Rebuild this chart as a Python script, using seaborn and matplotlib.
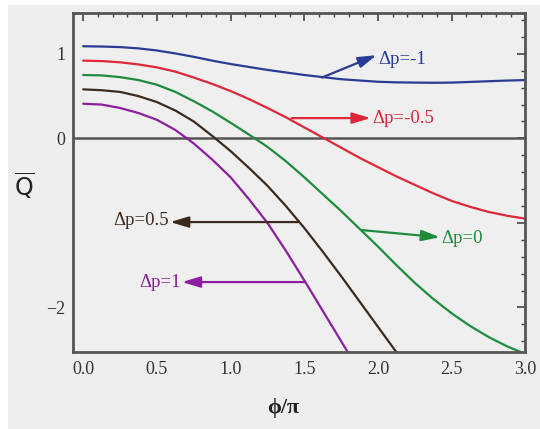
import numpy as np
import pandas as pd
import matplotlib
matplotlib.use("Agg")
import matplotlib.pyplot as plt
from matplotlib.patches import Rectangle
import seaborn as sns

# ---- data ----
phi = [0.0, 0.125, 0.25, 0.375, 0.5, 0.625, 0.75, 0.875, 1.0, 1.125, 1.25, 1.375, 1.5,
       1.625, 1.75, 1.875, 2.0, 2.125, 2.25, 2.375, 2.5, 2.625, 2.75, 2.875, 3.0]
q_dp_m1 = [1.09, 1.087, 1.08, 1.065, 1.04, 1.005, 0.965, 0.92, 0.88, 0.845, 0.81, 0.78, 0.75,
           0.725, 0.70, 0.685, 0.67, 0.663, 0.66, 0.658, 0.66, 0.668, 0.676, 0.684, 0.69]
q_dp_m05 = [0.92, 0.915, 0.90, 0.875, 0.84, 0.79, 0.72, 0.645, 0.56, 0.465, 0.36, 0.25, 0.13,
            0.01, -0.11, -0.23, -0.34, -0.45, -0.55, -0.65, -0.74, -0.81, -0.87, -0.915, -0.95]
q_dp_0 = [0.75, 0.745, 0.725, 0.69, 0.635, 0.55, 0.44, 0.32, 0.185, 0.045, -0.10, -0.27, -0.46,
          -0.66, -0.86, -1.07, -1.28, -1.50, -1.71, -1.90, -2.07, -2.22, -2.35, -2.46, -2.55]
q_dp_05 = [0.58, 0.57, 0.55, 0.50, 0.43, 0.33, 0.20, 0.03, -0.15, -0.35, -0.56, -0.80, -1.06,
           -1.34, -1.63, -1.93, -2.23, -2.53, -2.83]
q_dp_1 = [0.41, 0.40, 0.36, 0.30, 0.22, 0.10, -0.06, -0.25, -0.46, -0.72, -1.00, -1.33, -1.68,
          -2.04, -2.40, -2.76]

series_names = ["Δp=-1", "Δp=-0.5", "Δp=0", "Δp=0.5", "Δp=1"]
series_vals = [q_dp_m1, q_dp_m05, q_dp_0, q_dp_05, q_dp_1]
colors = {"Δp=-1": "#283c96", "Δp=-0.5": "#dc2838", "Δp=0": "#1e8c3c",
          "Δp=0.5": "#3c2a1e", "Δp=1": "#8c1ea0"}

# annotation anchors: (point on curve, arrow head, label position, ha)
annots = {
    "Δp=-1": ((1.62, 0.72), (1.99, 0.985), (2.00, 0.93), "left"),
    "Δp=-0.5": ((1.415, 0.24), (1.95, 0.24), (1.96, 0.24), "left"),
    "Δp=0": ((1.89, -1.085), (2.42, -1.17), (2.43, -1.18), "left"),
    "Δp=0.5": ((1.46, -0.99), (0.59, -0.99), (0.58, -0.975), "right"),
    "Δp=1": ((1.505, -1.70), (0.67, -1.70), (0.66, -1.71), "right"),
}

rows = []
for name, vals in zip(series_names, series_vals):
    for x, y in zip(phi, vals):
        rows.append({"phi": x, "Q": y, "series": name})
df = pd.DataFrame(rows)

sns.set_style("white")
plt.rcParams["font.family"] = ["Liberation Serif", "DejaVu Serif"]
plt.rcParams["mathtext.fontset"] = "custom"

fig = plt.figure(figsize=(5.4, 4.29), dpi=100)
fig.patch.set_facecolor("white")
fig.patches.append(Rectangle((8 / 540, 0), 1, 1 - 5 / 429, transform=fig.transFigure,
                             facecolor="#eeeeee", edgecolor="none", zorder=-10))
ax = fig.add_axes([0.136, 0.179, 0.837, 0.790])
ax.set_facecolor("#efefef")

sns.lineplot(data=df, x="phi", y="Q", hue="series", palette=colors, ax=ax,
             linewidth=1.6, legend=False, sort=True)

ax.axhline(0, color="#555555", lw=1.8, zorder=1)

for name in series_names:
    start, head, lab, ha = annots[name]
    c = colors[name]
    ax.annotate("", xy=head, xytext=start,
                arrowprops=dict(arrowstyle="-|>,head_length=1.1,head_width=0.33",
                                color=c, lw=1.6, mutation_scale=10, shrinkA=0, shrinkB=0))
    ax.text(lab[0], lab[1], name, color=c, fontsize=13.5, ha=ha, va="center",
            family=["Liberation Serif", "DejaVu Serif"])

ax.set_xlim(-0.066, 3.0)
ax.set_ylim(-2.53, 1.48)
ax.set_xticks([0, 0.5, 1.0, 1.5, 2.0, 2.5, 3.0])
ax.set_xticklabels(["0.0", "0.5", "1.0", "1.5", "2.0", "2.5", "3.0"])
ax.set_xticks(np.arange(0, 3.01, 0.1), minor=True)
ax.set_yticks([-2, -1, 0, 1])
ax.set_yticklabels(["\u22122", "", "0", "1"])
ax.set_yticks(np.arange(-2.4, 1.41, 0.2), minor=True)
ax.tick_params(which="both", direction="in", top=True, right=True, colors="#444444",
               labelcolor="#333333", labelsize=13)
ax.tick_params(which="major", length=6, width=1.2, pad=6)
ax.tick_params(which="minor", length=3, width=1.0)
for s in ax.spines.values():
    s.set_color("#555555")
    s.set_linewidth(2)
ax.set_xlabel("")
ax.set_ylabel("")

fig.text(283 / 540, 1 - 408 / 429, "ϕ/π", ha="center", va="center", fontsize=16,
         color="#222222", fontweight="bold", family=["Liberation Serif", "DejaVu Serif"])
fig.text(24 / 540, 1 - 186 / 429, r"$\overline{\mathrm{Q}}$", ha="center", va="center",
         fontsize=17, color="#222222")

fig.savefig("out.png", dpi=100, facecolor=fig.get_facecolor())
